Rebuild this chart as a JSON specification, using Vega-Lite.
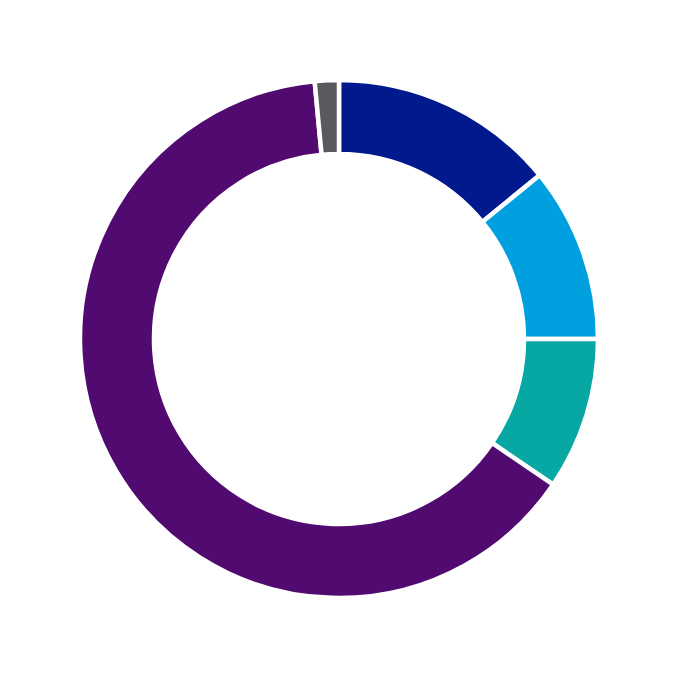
{
  "$schema": "https://vega.github.io/schema/vega-lite/v6.json",
  "width": 678,
  "height": 678,
  "autosize": {"type": "fit", "contains": "padding"},
  "padding": 0,
  "config": {"view": {"stroke": null}},
  "data": {
    "values": [
      {"category": "A", "share": 14.1, "rank": 1},
      {"category": "B", "share": 10.9, "rank": 2},
      {"category": "C", "share": 9.5, "rank": 3},
      {"category": "D", "share": 64.0, "rank": 4},
      {"category": "E", "share": 1.5, "rank": 5}
    ]
  },
  "mark": {"type": "arc", "radius": 259, "innerRadius": 185, "stroke": "white", "strokeWidth": 4.5},
  "encoding": {
    "theta": {"field": "share", "type": "quantitative", "stack": true},
    "order": {"field": "rank", "type": "quantitative"},
    "color": {
      "field": "category",
      "type": "nominal",
      "legend": null,
      "scale": {
        "domain": ["A", "B", "C", "D", "E"],
        "range": ["#001A8D", "#009FDF", "#07A7A4", "#500A70", "#5A5A5E"]
      }
    }
  }
}
